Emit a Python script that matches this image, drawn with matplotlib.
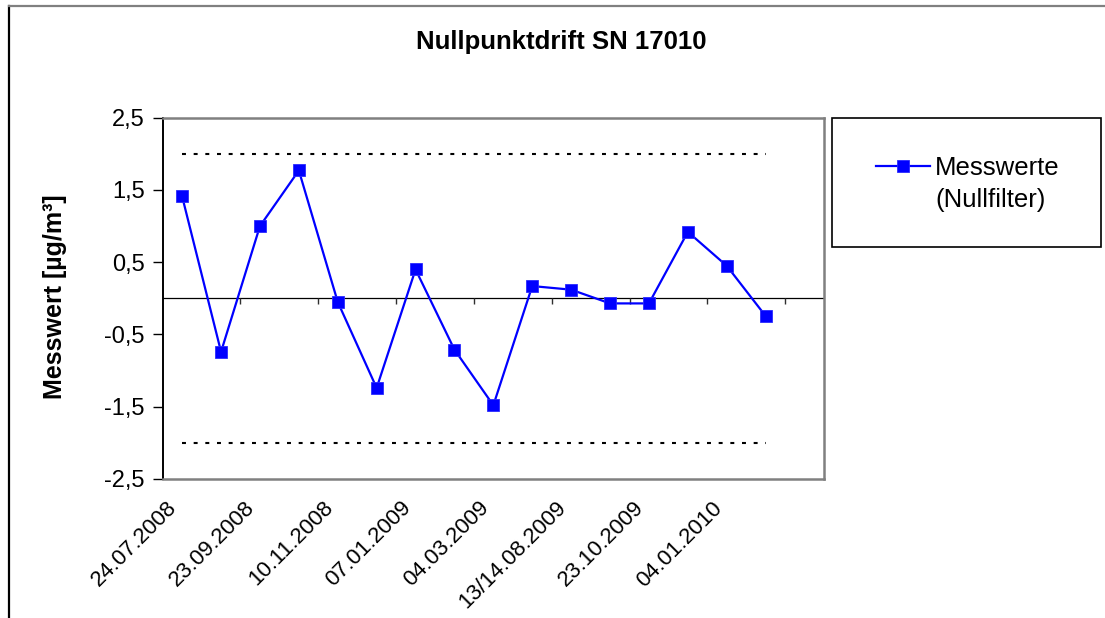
import matplotlib
matplotlib.use("Agg")
import matplotlib.pyplot as plt
from matplotlib.lines import Line2D
from matplotlib.patches import Rectangle
import matplotlib.transforms as mtransforms
import numpy as np

plt.rcParams['font.family'] = ['Liberation Sans', 'DejaVu Sans']

# ---- data ----
values = [1.41, -0.74, 1.00, 1.77, -0.05, -1.24, 0.40, -0.71,
          -1.48, 0.17, 0.12, -0.07, -0.07, 0.92, 0.45, -0.245]
n_categories = 17
tick_labels = ["24.07.2008", "23.09.2008", "10.11.2008", "07.01.2009",
               "04.03.2009", "13/14.08.2009", "23.10.2009", "04.01.2010"]
label_step = 2
upper_limit = 2.0
lower_limit = -2.0
y_ticks = [-2.5, -1.5, -0.5, 0.5, 1.5, 2.5]
y_tick_labels = ["-2,5", "-1,5", "-0,5", "0,5", "1,5", "2,5"]
title = "Nullpunktdrift SN 17010"
ylabel = "Messwert [µg/m³]"
series_label = "Messwerte"
series_label2 = "(Nullfilter)"

W, H = 1105, 618
fig = plt.figure(figsize=(W / 100, H / 100), dpi=100)
ax = fig.add_axes([162.7 / W, 1 - 479 / H, (824 - 162.7) / W, (479 - 117.7) / H])

x = np.arange(len(values))
# limit lines
ax.hlines([upper_limit, lower_limit], x[0], x[-1], colors='black',
          linewidth=1.5, linestyles=(0, (1.9, 3.7)), zorder=2)
# zero line
ax.axhline(0, color='black', linewidth=0.9, zorder=2)
# category tick marks on zero axis
boundaries = np.arange(1.5, n_categories - 1, label_step)
ax.vlines(boundaries, -0.075, 0, colors='#303030', linewidth=1.0, zorder=2)

line, = ax.plot(x, values, color='#0000ff', linewidth=1.6, marker='s',
                markersize=8, markerfacecolor='#0000ff',
                markeredgecolor='#2a2aff', markeredgewidth=0.6,
                label=series_label, zorder=3)

ax.set_xlim(-0.5, n_categories - 0.5)
ax.set_ylim(y_ticks[0], y_ticks[-1])
ax.set_yticks(y_ticks, y_tick_labels, fontsize=17)
ax.tick_params(axis='y', direction='out', length=7, width=1.0, pad=6, colors='black')
ax.set_xticks(np.arange(0, len(tick_labels) * label_step, label_step))
ax.set_xticklabels(tick_labels, rotation=45, ha='right', va='center',
                   rotation_mode='anchor', fontsize=16)
ax.tick_params(axis='x', length=0, pad=20)
offset = mtransforms.ScaledTranslation(-8 / 100, 2 / 100, fig.dpi_scale_trans)
for lbl in ax.get_xticklabels():
    lbl.set_transform(lbl.get_transform() + offset)

for s in ['top', 'right', 'bottom']:
    ax.spines[s].set_color('#808080')
    ax.spines[s].set_linewidth(1.8)
ax.spines['left'].set_color('black')
ax.spines['left'].set_linewidth(1.4)

# title and y label
fig.text(561 / W, 1 - 49.3 / H, title, ha='center', va='baseline',
         fontsize=18.5, fontweight='bold')
fig.text(62 / W, 1 - 296.5 / H, ylabel, rotation=90, rotation_mode='anchor',
         ha='center', va='baseline', fontsize=18, fontweight='bold')

# legend box
fig.add_artist(Rectangle((831.7 / W, 1 - 246.7 / H), (1100.7 - 831.7) / W,
                         (246.7 - 118.3) / H, transform=fig.transFigure,
                         fill=False, edgecolor='black', linewidth=1.2))
leg = fig.legend(handles=[line], loc='center left',
                 bbox_to_anchor=(876 / W, 1 - 168 / H), frameon=False,
                 fontsize=18.5, handlelength=2.1, handletextpad=0.2,
                 borderpad=0, borderaxespad=0)
fig.canvas.draw()
tb = leg.get_texts()[0].get_window_extent()
fig.text(tb.x0 / W, 1 - 200 / H, series_label2, ha='left', va='center', fontsize=18.5)

# outer chart border
fig.add_artist(Line2D([8.5 / W, 8.5 / W], [0, 1 - 5.5 / H], transform=fig.transFigure,
                      color='black', linewidth=1.6))
fig.add_artist(Line2D([8.5 / W, 1], [1 - 5.5 / H, 1 - 5.5 / H], transform=fig.transFigure,
                      color='#808080', linewidth=1.6))

fig.savefig("out.png", dpi=100)
